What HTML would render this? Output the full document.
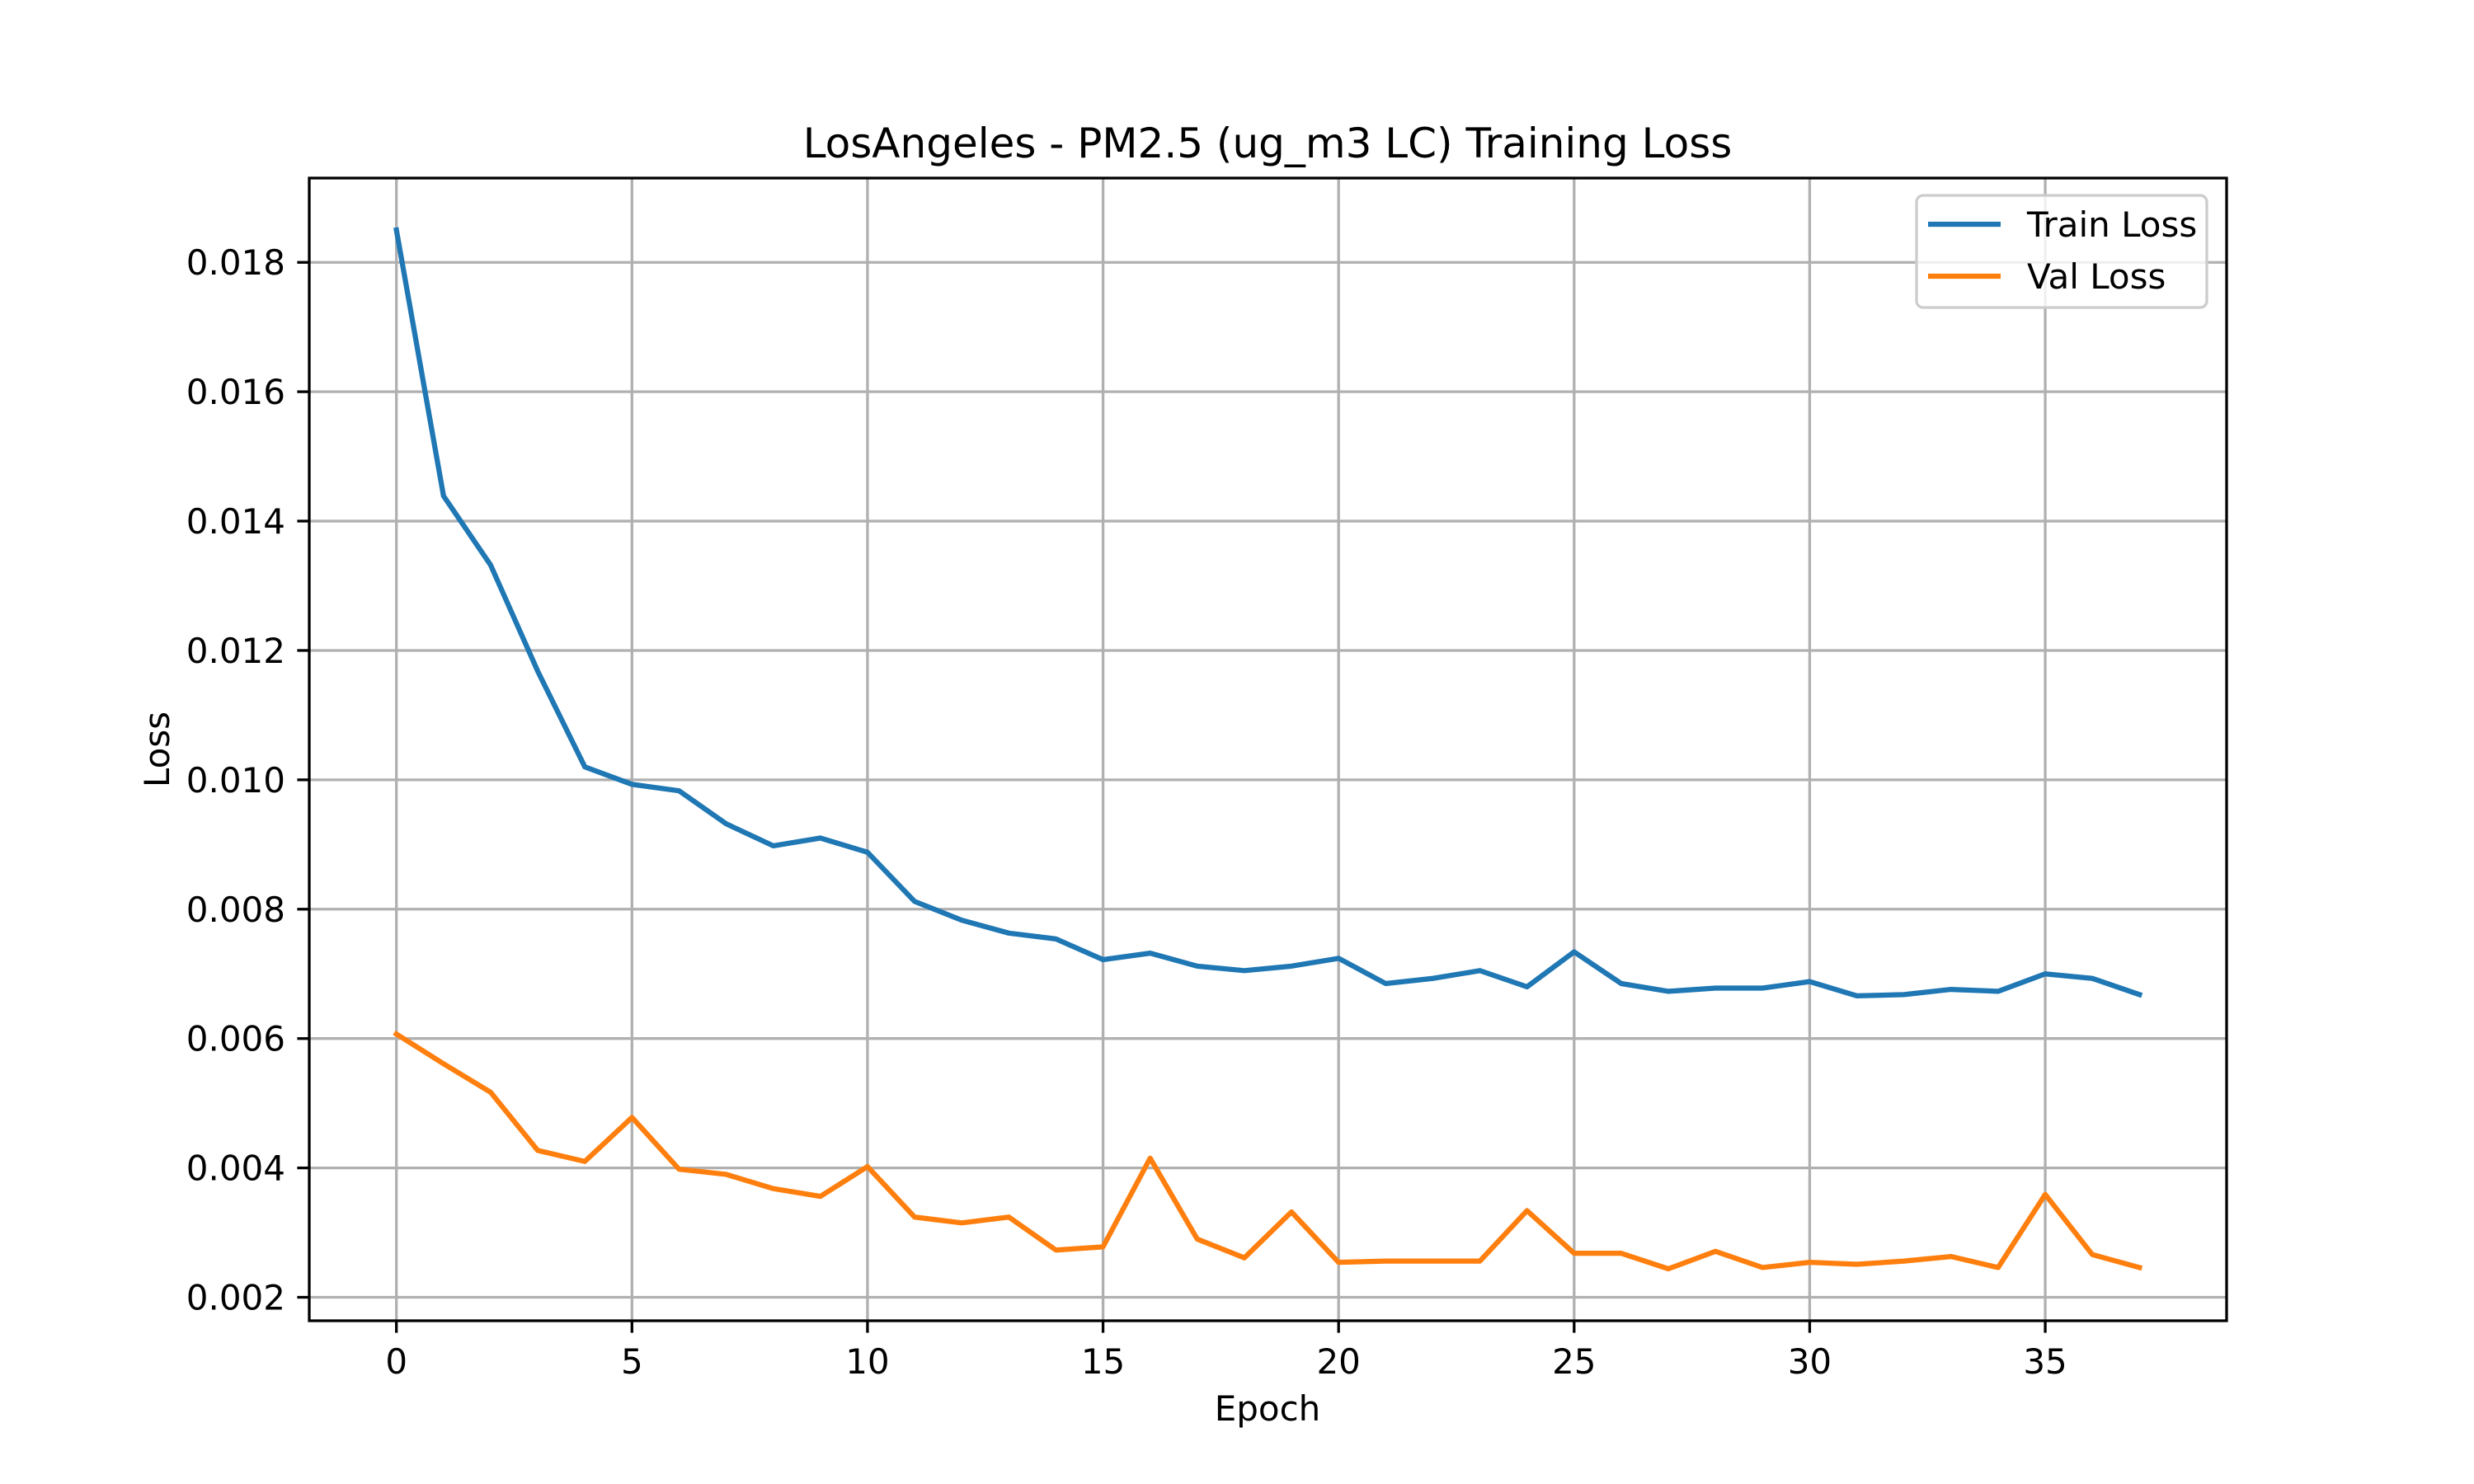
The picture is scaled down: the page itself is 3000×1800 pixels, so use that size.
<!DOCTYPE html>
<html><head><meta charset="utf-8">
<style>html,body{margin:0;padding:0;background:#fff}svg{display:block}text{font-family:"DejaVu Sans","Liberation Sans",sans-serif;fill:#000}</style>
</head><body>
<svg id="chart" width="3000" height="1800" viewBox="0 0 3000 1800" xmlns="http://www.w3.org/2000/svg">
<rect x="0" y="0" width="3000" height="1800" fill="#fff"/>
<text x="1537" y="191" font-size="50" text-anchor="middle">LosAngeles - PM2.5 (ug_m3 LC) Training Loss</text>
<g id="grid"></g>
<g id="ticks"></g>
<g id="series"></g>
<rect x="375" y="216" width="2325" height="1386" fill="none" stroke="#000" stroke-width="3.3"/>
<text x="1537" y="1723" font-size="42" text-anchor="middle">Epoch</text>
<text x="205" y="909" font-size="42" text-anchor="middle" transform="rotate(-90 205 909)">Loss</text>
<g>
<rect x="2324" y="237" width="352" height="136" rx="8" fill="#fff" fill-opacity="0.8" stroke="#ccc" stroke-width="3.3"/>
<line x1="2338" y1="272" x2="2426" y2="272" stroke="#1f77b4" stroke-width="6.25"/>
<text x="2458" y="287" font-size="42">Train Loss</text>
<line x1="2338" y1="335" x2="2426" y2="335" stroke="#ff7f0e" stroke-width="6.25"/>
<text x="2458" y="350" font-size="42">Val Loss</text>
</g>
</svg>
<script>
const epochs = [0,1,2,3,4,5,6,7,8,9,10,11,12,13,14,15,16,17,18,19,20,21,22,23,24,25,26,27,28,29,30,31,32,33,34,35,36,37];
const trainLoss = [0.0185,0.01439,0.01332,0.01168,0.01020,0.00993,0.00983,0.00932,0.00898,0.00910,0.00888,0.00812,0.00783,0.00763,0.00754,0.00722,0.00732,0.00712,0.00705,0.00712,0.00724,0.00685,0.00693,0.00705,0.00680,0.00734,0.00685,0.00673,0.00678,0.00678,0.00688,0.00666,0.00668,0.00676,0.00673,0.00700,0.00693,0.00668];
const valLoss = [0.00607,0.00561,0.00517,0.00427,0.00410,0.00478,0.00398,0.00390,0.00368,0.00356,0.00402,0.00324,0.00315,0.00324,0.00273,0.00278,0.00415,0.00290,0.00261,0.00332,0.00254,0.00256,0.00256,0.00256,0.00334,0.00268,0.00268,0.00244,0.00271,0.00246,0.00254,0.00251,0.00256,0.00263,0.00246,0.00359,0.00266,0.00246];
const xTicks = [0,5,10,15,20,25,30,35];
const yTicks = [0.002,0.004,0.006,0.008,0.010,0.012,0.014,0.016,0.018];

const NS="http://www.w3.org/2000/svg";
const L=375,R=2700,T=216,B=1602;
const xmin=-1.85,xmax=38.85;
const all=trainLoss.concat(valLoss);
const dmin=Math.min(...all),dmax=Math.max(...all),pad=(dmax-dmin)*0.05;
const ymin=dmin-pad,ymax=dmax+pad;
const sx=v=>L+(v-xmin)/(xmax-xmin)*(R-L);
const sy=v=>B-(v-ymin)/(ymax-ymin)*(B-T);
function mk(tag,attrs,parent){const e=document.createElementNS(NS,tag);for(const k in attrs)e.setAttribute(k,attrs[k]);parent.appendChild(e);return e;}
const grid=document.getElementById('grid'),ticks=document.getElementById('ticks'),series=document.getElementById('series');
xTicks.forEach(t=>{const x=sx(t);
 const g=mk('line',{x1:x,x2:x,y1:T,y2:B,stroke:'#b0b0b0','stroke-width':3.3},grid);
 
 
 const tk=mk('line',{x1:x,x2:x,y1:B,y2:B+14.6,stroke:'#000','stroke-width':3.3},ticks);
 
 
 const tx=mk('text',{x:x,y:B+64,'font-size':42,'text-anchor':'middle'},ticks);tx.textContent=t;
 
 
});
yTicks.forEach(t=>{const y=sy(t);
 const g=mk('line',{x1:L,x2:R,y1:y,y2:y,stroke:'#b0b0b0','stroke-width':3.3},grid);
 
 
 const tk=mk('line',{x1:L-14.6,x2:L,y1:y,y2:y,stroke:'#000','stroke-width':3.3},ticks);
 
 
 const tx=mk('text',{x:L-29,y:y+15,'font-size':42,'text-anchor':'end'},ticks);tx.textContent=t.toFixed(3);
 
 
});
function line(data,color,name){
 const pts=data.map((v,i)=>sx(epochs[i])+','+sy(v)).join(' ');
 const p=mk('polyline',{points:pts,fill:'none',stroke:color,'stroke-width':6.25,'stroke-linejoin':'round','stroke-linecap':'square'},series);
 
 
}
line(trainLoss,'#1f77b4','train-loss-line');
line(valLoss,'#ff7f0e','val-loss-line');
</script>
</body></html>
